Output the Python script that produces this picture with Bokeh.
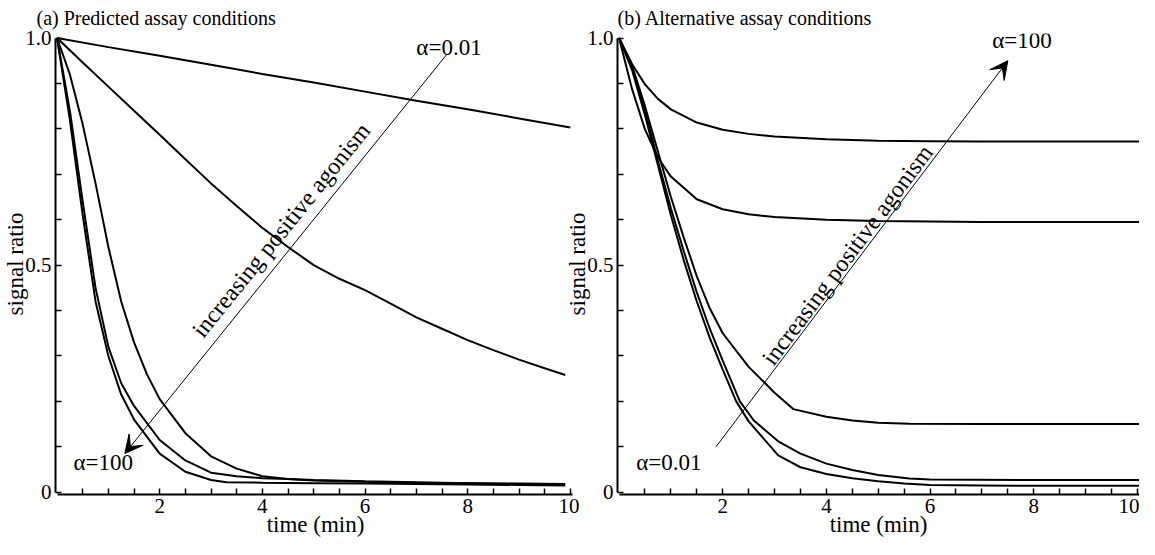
import math
from bokeh.plotting import figure
from bokeh.models import FixedTicker, Label, Arrow, VeeHead, Range1d
from bokeh.layouts import row
from bokeh.embed import file_html
from bokeh.resources import INLINE

# ---------------- data: panel (a) Predicted assay conditions ----------------
a_t_001 = [0, 1, 2, 3, 4, 5, 6, 7, 8, 9, 10.0]
a_v_001 = [1.0, 0.98, 0.961, 0.941, 0.921, 0.902, 0.882, 0.862, 0.843, 0.823, 0.803]

a_t_01 = [0, 0.5, 1, 1.5, 2, 2.5, 3, 3.5, 4, 4.5, 5, 5.5, 6, 6.5, 7, 7.5, 8, 8.5, 9, 9.5, 9.9]
a_v_01 = [1.0, 0.946, 0.893, 0.84, 0.787, 0.733, 0.68, 0.63, 0.582, 0.54, 0.5, 0.47,
          0.445, 0.415, 0.385, 0.36, 0.335, 0.313, 0.292, 0.273, 0.258]

a_t_1 = [0, 0.25, 0.5, 0.75, 1, 1.25, 1.5, 1.75, 2, 2.5, 3, 3.5, 4, 4.5, 5, 6, 7, 8, 9, 9.9]
a_v_1 = [1.0, 0.92, 0.81, 0.68, 0.54, 0.42, 0.33, 0.26, 0.205, 0.13, 0.079, 0.052, 0.035,
         0.029, 0.026, 0.023, 0.021, 0.02, 0.019, 0.018]

a_t_10 = [0, 0.25, 0.5, 0.75, 1, 1.25, 1.5, 2, 2.5, 3, 3.5, 4, 4.5, 5, 6, 7, 8, 9, 9.8]
a_v_10 = [1.0, 0.84, 0.64, 0.45, 0.32, 0.24, 0.19, 0.115, 0.07, 0.043, 0.035, 0.031, 0.029,
          0.027, 0.024, 0.022, 0.02, 0.018, 0.017]

a_t_100 = [0, 0.25, 0.5, 0.75, 1, 1.25, 1.5, 2, 2.5, 3, 3.3, 4, 5, 6, 7, 8, 9, 9.9]
a_v_100 = [1.0, 0.82, 0.61, 0.42, 0.3, 0.215, 0.16, 0.085, 0.045, 0.027, 0.022, 0.021, 0.02,
           0.019, 0.018, 0.017, 0.016, 0.015]

# ---------------- data: panel (b) Alternative assay conditions ----------------
b_t_100 = [0, 0.25, 0.5, 0.75, 1, 1.5, 2, 2.5, 3, 4, 5, 6, 7, 8, 9, 10.2]
b_v_100 = [1.0, 0.943, 0.898, 0.866, 0.843, 0.814, 0.798, 0.789, 0.783, 0.777, 0.774, 0.773,
           0.772, 0.772, 0.772, 0.772]

b_t_10 = [0, 0.25, 0.5, 0.75, 1, 1.5, 2, 2.5, 3, 4, 5, 6, 7, 8, 9, 10.2]
b_v_10 = [1.0, 0.888, 0.799, 0.737, 0.695, 0.645, 0.623, 0.612, 0.606, 0.6, 0.597, 0.596,
          0.595, 0.595, 0.595, 0.595]

b_t_1 = [0, 0.25, 0.5, 0.75, 1, 1.25, 1.5, 1.75, 2, 2.5, 3, 3.36, 4, 4.5, 5, 5.6, 7, 8.5, 10.2]
b_v_1 = [1.0, 0.94, 0.85, 0.75, 0.65, 0.56, 0.475, 0.405, 0.35, 0.276, 0.219, 0.183, 0.166,
         0.158, 0.153, 0.151, 0.15, 0.15, 0.15]

b_t_01 = [0, 0.25, 0.5, 0.75, 1, 1.25, 1.5, 1.75, 2, 2.33, 2.6, 3.07, 3.5, 4, 4.5, 5, 5.6, 6,
          8, 10.2]
b_v_01 = [1.0, 0.935, 0.84, 0.73, 0.625, 0.53, 0.44, 0.36, 0.29, 0.2, 0.158, 0.112, 0.085,
          0.063, 0.049, 0.038, 0.03, 0.028, 0.027, 0.027]

b_t_001 = [0, 0.25, 0.5, 0.75, 1, 1.25, 1.5, 1.75, 2, 2.26, 2.5, 3.07, 3.5, 4, 4.5, 5, 5.5,
           6, 7, 8, 9, 10.2]
b_v_001 = [1.0, 0.93, 0.83, 0.72, 0.61, 0.51, 0.42, 0.34, 0.27, 0.2, 0.156, 0.081, 0.055,
           0.04, 0.031, 0.024, 0.019, 0.016, 0.015, 0.014, 0.014, 0.014]

x_major = [2, 4, 6, 8, 10]
x_minor = [0.5, 1, 1.5, 2.5, 3, 3.5, 4.5, 5, 5.5, 6.5, 7, 7.5, 8.5, 9, 9.5]
y_major = [0, 0.5, 1.0]
y_minor = [0.1, 0.2, 0.3, 0.4, 0.6, 0.7, 0.8, 0.9]
y_labels = {0: "0", 0.5: "0.5", 1: "1.0"}
x_title = "time (min)"
y_title = "signal ratio"

# annotation anchors (data coordinates): x_start, y_start, x_end, y_end
a_arrow = (7.6, 0.965, 1.32, 0.085)
b_arrow = (1.87, 0.10, 7.5, 0.95)

SERIF = "Liberation Serif"
FIG_H = 539
BORDER_TOP = 31
BORDER_BOTTOM = 40
Y_LO, Y_HI = -0.005, 1.01


def make_panel(title, width, border_left, border_right, x_end, title_offset):
    p = figure(width=width, height=FIG_H, output_backend="svg", toolbar_location=None,
               x_range=Range1d(-0.03, x_end), y_range=Range1d(Y_LO, Y_HI),
               min_border_left=border_left, min_border_right=border_right,
               min_border_top=BORDER_TOP, min_border_bottom=BORDER_BOTTOM)
    p.title.text = title
    p.title.text_font = SERIF
    p.title.text_font_size = "20px"
    p.title.text_font_style = "normal"
    p.title.text_color = "black"
    p.title.align = "left"
    p.title.offset = title_offset
    p.title.standoff = 9
    p.outline_line_color = None
    p.xgrid.visible = False
    p.ygrid.visible = False
    p.background_fill_color = None
    p.border_fill_color = None

    for ax in (p.xaxis[0], p.yaxis[0]):
        ax.axis_line_width = 2
        ax.axis_line_color = "black"
        ax.major_tick_in = 6
        ax.major_tick_out = 0
        ax.minor_tick_in = 6
        ax.minor_tick_out = 0
        ax.major_tick_line_width = 1.5
        ax.minor_tick_line_width = 1.5
        ax.major_label_text_font = SERIF
        ax.major_label_text_font_size = "21px"
        ax.major_label_text_color = "black"
        ax.axis_label_text_font = SERIF
        ax.axis_label_text_font_size = "23px"
        ax.axis_label_text_font_style = "normal"
        ax.axis_label_text_color = "black"

    p.xaxis.ticker = FixedTicker(ticks=x_major, minor_ticks=x_minor)
    p.yaxis.ticker = FixedTicker(ticks=y_major, minor_ticks=y_minor)
    p.yaxis.major_label_overrides = y_labels
    p.xaxis.axis_label = x_title
    p.yaxis.axis_label = y_title
    p.xaxis.major_label_standoff = 4
    p.xaxis.axis_label_standoff = -4
    p.yaxis.major_label_standoff = 4
    p.yaxis.axis_label_standoff = -6
    p.xaxis.bounds = (0, 10.05)
    p.yaxis.bounds = (0, 1.0)
    return p


P1_W, P1_L, P1_R, P1_XEND = 579, 46, 4, 10.1
P2_W, P2_L, P2_R, P2_XEND = 577, 52, 0, 10.04

p1 = make_panel("(a) Predicted assay conditions", P1_W, P1_L, P1_R, P1_XEND, -19)
for t, v in [(a_t_001, a_v_001), (a_t_01, a_v_01), (a_t_1, a_v_1),
             (a_t_10, a_v_10), (a_t_100, a_v_100)]:
    p1.line(t, v, line_color="black", line_width=2)

p2 = make_panel("(b) Alternative assay conditions", P2_W, P2_L, P2_R, P2_XEND, 0)
p2.margin = (0, 0, 0, -17)
for t, v in [(b_t_100, b_v_100), (b_t_10, b_v_10), (b_t_1, b_v_1),
             (b_t_01, b_v_01), (b_t_001, b_v_001)]:
    p2.line(t, v, line_color="black", line_width=2)

Y_PX = (FIG_H - BORDER_TOP - BORDER_BOTTOM) / (Y_HI - Y_LO)
X_PX1 = (P1_W - P1_L - P1_R) / (P1_XEND + 0.03)
X_PX2 = (P2_W - P2_L - P2_R) / (P2_XEND + 0.03)


def add_arrow(p, coords, xpx, ypx, text_frac, d):
    xs, ys, xe, ye = coords
    p.add_layout(Arrow(x_start=xs, y_start=ys, x_end=xe, y_end=ye, line_width=1,
                       line_color="black",
                       end=VeeHead(size=18, fill_color="black", line_color="black",
                                   line_width=1)))
    # rotated caption parallel to the arrow, just above-left of it
    if xe < xs:
        x0, y0, x1, y1 = xe, ye, xs, ys
    else:
        x0, y0, x1, y1 = xs, ys, xe, ye
    ang = math.atan2((y1 - y0) * ypx, (x1 - x0) * xpx)
    fx = x0 + (x1 - x0) * text_frac
    fy = y0 + (y1 - y0) * text_frac
    cx = fx - d * math.sin(ang) / xpx
    cy = fy + d * math.cos(ang) / ypx
    p.add_layout(Label(x=cx, y=cy, text="increasing positive agonism", angle=ang,
                       angle_units="rad", text_align="center", text_baseline="middle",
                       text_font=SERIF, text_font_size="24px", text_color="black"))


add_arrow(p1, a_arrow, X_PX1, Y_PX, 0.53, 19)
add_arrow(p2, b_arrow, X_PX2, Y_PX, 0.48, 11)

for p, x, y, txt in [(p1, 7.0, 0.98, "α=0.01"), (p1, 0.32, 0.065, "α=100"),
                     (p2, 7.2, 0.995, "α=100"), (p2, 0.33, 0.066, "α=0.01")]:
    p.add_layout(Label(x=x, y=y, text=txt, text_align="left", text_baseline="middle",
                       text_font=SERIF, text_font_size="23px", text_color="black"))

layout = row(p1, p2)
open("out.html", "w").write(file_html(layout, INLINE))
